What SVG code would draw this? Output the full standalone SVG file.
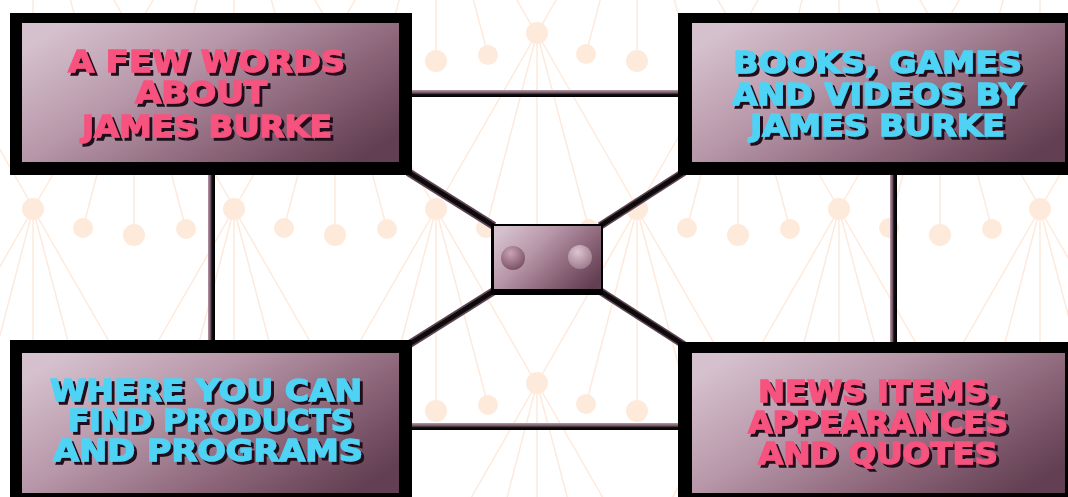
<svg xmlns="http://www.w3.org/2000/svg" xmlns:xlink="http://www.w3.org/1999/xlink" width="1068" height="497" viewBox="0 0 1068 497">
<style>
.t{font-family:"DejaVu Sans","Liberation Sans",sans-serif;font-weight:bold;font-size:30px;filter:url(#ds)}
.pk{fill:#f6527f;stroke:#f6527f;stroke-width:1.3}
.cy{fill:#4fd3f5;stroke:#4fd3f5;stroke-width:1.3}
.frame{fill:#000}
.panel{fill:url(#pg)}
</style>
<defs>
<filter id="ds" x="-5%" y="-20%" width="115%" height="150%">
<feOffset in="SourceAlpha" dx="2.5" dy="2.5" result="o"/>
<feFlood flood-color="#24101c"/>
<feComposite in2="o" operator="in" result="s"/>
<feMerge><feMergeNode in="s"/><feMergeNode in="SourceGraphic"/></feMerge>
</filter>
<linearGradient id="pg" x1="0" y1="0.2" x2="1" y2="0.8">
<stop offset="0" stop-color="#d5c0cd"/>
<stop offset="0.35" stop-color="#b797a9"/>
<stop offset="0.7" stop-color="#8b6478"/>
<stop offset="1" stop-color="#623f52"/>
</linearGradient>
<linearGradient id="hg" x1="0" y1="0" x2="0" y2="1">
<stop offset="0" stop-color="#b69aaa"/>
<stop offset="0.45" stop-color="#6a4a5a"/>
<stop offset="0.6" stop-color="#111"/>
<stop offset="1" stop-color="#000"/>
</linearGradient>
<linearGradient id="vg" x1="0" y1="0" x2="1" y2="0">
<stop offset="0" stop-color="#b69aaa"/>
<stop offset="0.4" stop-color="#6a4a5a"/>
<stop offset="0.55" stop-color="#111"/>
<stop offset="1" stop-color="#000"/>
</linearGradient>
<radialGradient id="s1" cx="0.4" cy="0.3" r="0.7">
<stop offset="0" stop-color="#c8a3b6"/>
<stop offset="1" stop-color="#7d5267"/>
</radialGradient>
<radialGradient id="s2" cx="0.4" cy="0.3" r="0.7">
<stop offset="0" stop-color="#dcc4d0"/>
<stop offset="1" stop-color="#a07e8f"/>
</radialGradient>
<g id="fan">
<path d="M0 0L-101 176M0 0L-51 195M0 0L0 202M0 0L52 196M0 0L101 176" stroke="#feeadc" stroke-width="1.5" fill="none"/>
<g fill="#feeadb">
<circle r="11"/>
<circle cx="-51" cy="195" r="10"/>
<circle cx="0" cy="202" r="11"/>
<circle cx="52" cy="196" r="10"/>
</g>
</g>
</defs>
<rect width="1068" height="497" fill="#fff"/>
<g id="background">
<use xlink:href="#fan" x="33" y="-141"/><use xlink:href="#fan" x="234" y="-141"/><use xlink:href="#fan" x="436" y="-141"/><use xlink:href="#fan" x="637" y="-141"/><use xlink:href="#fan" x="839" y="-141"/><use xlink:href="#fan" x="1040" y="-141"/>
<use xlink:href="#fan" x="33" y="209"/><use xlink:href="#fan" x="234" y="209"/><use xlink:href="#fan" x="436" y="209"/><use xlink:href="#fan" x="637" y="209"/><use xlink:href="#fan" x="839" y="209"/><use xlink:href="#fan" x="1040" y="209"/>
<use xlink:href="#fan" x="-67" y="33"/><use xlink:href="#fan" x="134" y="33"/><use xlink:href="#fan" x="335" y="33"/><use xlink:href="#fan" x="537" y="33"/><use xlink:href="#fan" x="738" y="33"/><use xlink:href="#fan" x="940" y="33"/><use xlink:href="#fan" x="1141" y="33"/>
<use xlink:href="#fan" x="-67" y="383"/><use xlink:href="#fan" x="134" y="383"/><use xlink:href="#fan" x="335" y="383"/><use xlink:href="#fan" x="537" y="383"/><use xlink:href="#fan" x="738" y="383"/><use xlink:href="#fan" x="940" y="383"/><use xlink:href="#fan" x="1141" y="383"/>
</g>
<g id="connectors">
<rect x="405" y="90" width="280" height="7" fill="url(#hg)"/>
<rect x="405" y="423" width="280" height="7" fill="url(#hg)"/>
<rect x="208" y="170" width="7" height="175" fill="url(#vg)"/>
<rect x="890" y="170" width="7" height="175" fill="url(#vg)"/>
<g stroke="#5d4352" stroke-width="8">
<line x1="408" y1="172" x2="494" y2="226"/>
<line x1="600" y1="226" x2="684" y2="172"/>
<line x1="494" y1="291" x2="408" y2="345"/>
<line x1="600" y1="291" x2="684" y2="345"/>
</g>
<g stroke="#0d0a0c" stroke-width="4.5">
<line x1="408" y1="172" x2="494" y2="226"/>
<line x1="600" y1="226" x2="684" y2="172"/>
<line x1="494" y1="291" x2="408" y2="345"/>
<line x1="600" y1="291" x2="684" y2="345"/>
</g>
</g>
<g id="node-words">
<rect class="frame" x="10" y="13" width="402" height="162"/>
<rect class="panel" x="22" y="23" width="377" height="139"/>
<g class="t">
<text class="pk" x="68" y="72" textLength="277" lengthAdjust="spacingAndGlyphs">A FEW WORDS</text>
<text class="pk" x="135" y="103" textLength="132" lengthAdjust="spacingAndGlyphs">ABOUT</text>
<text class="pk" x="82" y="137" textLength="250" lengthAdjust="spacingAndGlyphs">JAMES BURKE</text>
</g>
</g>
<g id="node-books">
<rect class="frame" x="678" y="13" width="400" height="162"/>
<rect class="panel" x="692" y="23" width="373" height="139"/>
<g class="t">
<text class="cy" x="733" y="73" textLength="289" lengthAdjust="spacingAndGlyphs">BOOKS, GAMES</text>
<text class="cy" x="732" y="105" textLength="291" lengthAdjust="spacingAndGlyphs">AND VIDEOS BY</text>
<text class="cy" x="750" y="136" textLength="255" lengthAdjust="spacingAndGlyphs">JAMES BURKE</text>
</g>
</g>
<g id="node-center">
<rect class="frame" x="491" y="224" width="112" height="71"/>
<rect class="panel" x="494" y="226" width="107" height="63"/>
<circle cx="513" cy="258" r="12" fill="url(#s1)"/>
<circle cx="580" cy="257" r="12" fill="url(#s2)"/>
</g>
<g id="node-products">
<rect class="frame" x="10" y="340" width="402" height="170"/>
<rect class="panel" x="22" y="353" width="377" height="140"/>
<g class="t">
<text class="cy" x="50" y="401" textLength="312" lengthAdjust="spacingAndGlyphs">WHERE YOU CAN</text>
<text class="cy" x="68" y="431" textLength="285" lengthAdjust="spacingAndGlyphs">FIND PRODUCTS</text>
<text class="cy" x="53" y="461" textLength="310" lengthAdjust="spacingAndGlyphs">AND PROGRAMS</text>
</g>
</g>
<g id="node-news">
<rect class="frame" x="678" y="342" width="400" height="170"/>
<rect class="panel" x="692" y="353" width="373" height="140"/>
<g class="t">
<text class="pk" x="758" y="402" textLength="242" lengthAdjust="spacingAndGlyphs">NEWS ITEMS,</text>
<text class="pk" x="748" y="433" textLength="260" lengthAdjust="spacingAndGlyphs">APPEARANCES</text>
<text class="pk" x="758" y="464" textLength="240" lengthAdjust="spacingAndGlyphs">AND QUOTES</text>
</g>
</g>
</svg>
